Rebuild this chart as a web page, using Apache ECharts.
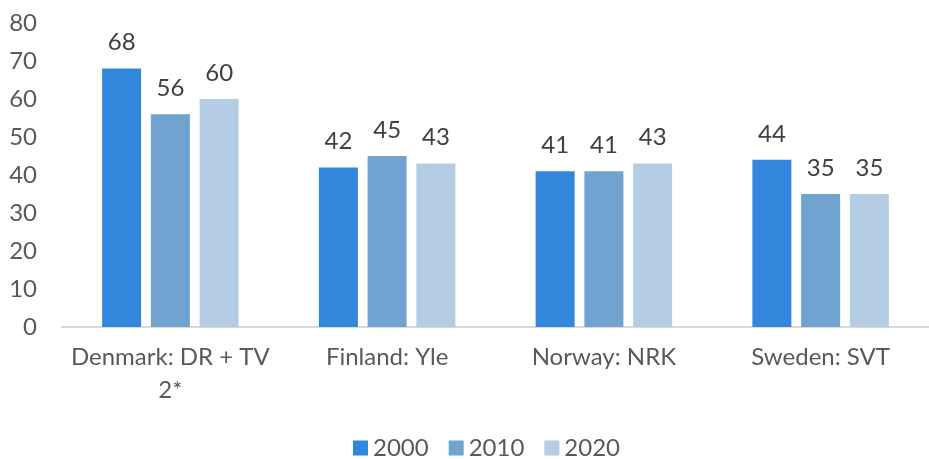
<!DOCTYPE html>
<html>
<head>
<meta charset="utf-8">
<script src="https://cdn.jsdelivr.net/npm/echarts@6/dist/echarts.min.js"></script>
<style>html,body{margin:0;padding:0;background:#fff}#c{width:929px;height:459px}</style>
</head>
<body>
<div id="c"></div>
<script>
const categories = ['Denmark: DR + TV 2*', 'Finland: Yle', 'Norway: NRK', 'Sweden: SVT'];
const years = ['2000', '2010', '2020'];
const v2000 = [68, 42, 41, 44];
const v2010 = [56, 45, 41, 35];
const v2020 = [60, 43, 43, 35];
const yTicks = [0, 10, 20, 30, 40, 50, 60, 70, 80];

const colors = ['#3286dc', '#71a3d1', '#b4cde4'];
const font = 'Lato, "Open Sans", sans-serif';
const txt = '#595959';
const fs = 24;

const chart = echarts.init(document.getElementById('c'));
const mk = (name, data, i) => ({
  name, type: 'bar', data, barWidth: 39, barGap: '25%',
  itemStyle: { color: colors[i] },
  label: { show: true, position: 'top', distance: 14, color: '#404040', fontSize: fs, fontFamily: font }
});
chart.setOption({
  animation: false,
  color: colors,
  grid: { left: 62, top: 23, width: 875, bottom: 132, containLabel: false },
  legend: {
    top: 431, left: 348, itemWidth: 15, itemHeight: 15, itemGap: 20,
    icon: 'rect',
    textStyle: { color: txt, fontSize: fs, fontFamily: font },
    data: years
  },
  xAxis: {
    type: 'category', data: categories,
    axisTick: { show: false },
    axisLine: { lineStyle: { color: '#d9d9d9', width: 2 } },
    axisLabel: {
      color: txt, fontSize: fs, fontFamily: font, margin: 14, lineHeight: 33,
      interval: 0,
      formatter: s => s.replace(' 2*', '\n2*')
    }
  },
  yAxis: {
    type: 'value', min: yTicks[0], max: yTicks[yTicks.length - 1], interval: 10,
    splitLine: { show: false }, axisLine: { show: false }, axisTick: { show: false },
    axisLabel: { color: txt, fontSize: fs, fontFamily: font, margin: 25 }
  },
  series: [mk(years[0], v2000, 0), mk(years[1], v2010, 1), mk(years[2], v2020, 2)]
});
</script>
</body>
</html>
